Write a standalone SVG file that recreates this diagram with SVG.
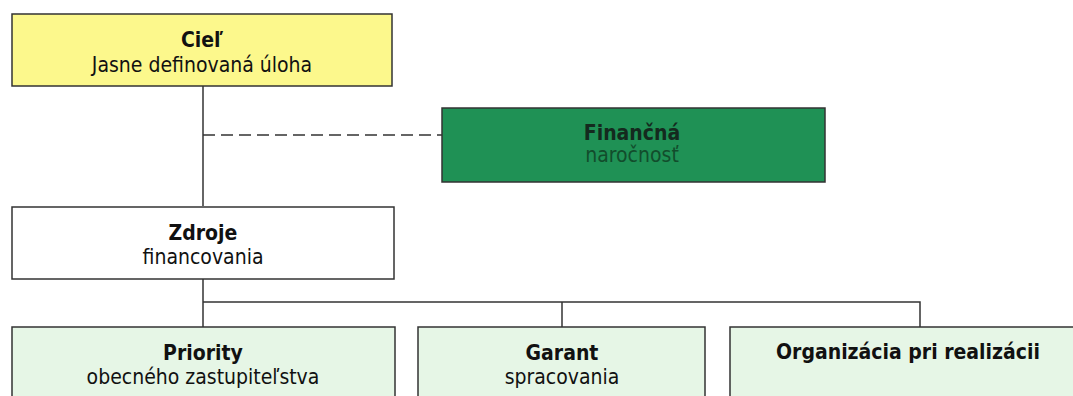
<svg xmlns="http://www.w3.org/2000/svg" width="1073" height="396" viewBox="0 0 1073 396">
<style>
.box{stroke:#333;stroke-width:1.5}
.t{font-family:"DejaVu Sans Condensed","DejaVu Sans",sans-serif;font-size:21px;text-anchor:middle;fill:#111}
.b{font-weight:bold}
.ln{fill:none;stroke:#333;stroke-width:1.5}
</style>
<rect width="1073" height="396" fill="#fff"/>
<g id="connectors">
<path class="ln" d="M203 86V206"/>
<path class="ln" d="M203 135H442" stroke-dasharray="12 6" stroke-width="2"/>
<path class="ln" d="M203 279V327"/>
<path class="ln" d="M203 302H920V327"/>
<path class="ln" d="M562 302V327"/>
</g>
<g id="ciel">
<rect class="box" x="12" y="14" width="380" height="72" fill="#fcf88c"/>
<text class="t b" x="202" y="47">Cieľ</text>
<text class="t" x="202" y="72">Jasne definovaná úloha</text>
</g>
<g id="financna">
<rect class="box" x="442" y="108" width="383" height="74" fill="#1f9155"/>
<text class="t b" x="632" y="140" style="fill:#142a1e">Finančná</text>
<text class="t" x="632" y="162" style="fill:#124d2c">naročnosť</text>
</g>
<g id="zdroje">
<rect class="box" x="12" y="207" width="382" height="72" fill="#fff"/>
<text class="t b" x="203" y="240">Zdroje</text>
<text class="t" x="203" y="264">financovania</text>
</g>
<g id="priority">
<rect class="box" x="12" y="327" width="383" height="80" fill="#e6f6e6"/>
<text class="t b" x="203" y="360">Priority</text>
<text class="t" x="203" y="384">obecného zastupiteľstva</text>
</g>
<g id="garant">
<rect class="box" x="418" y="327" width="287" height="80" fill="#e6f6e6"/>
<text class="t b" x="562" y="360">Garant</text>
<text class="t" x="562" y="384">spracovania</text>
</g>
<g id="organizacia">
<rect class="box" x="730" y="327" width="356" height="80" fill="#e6f6e6"/>
<text class="t b" x="908" y="359">Organizácia pri realizácii</text>
</g>
</svg>
